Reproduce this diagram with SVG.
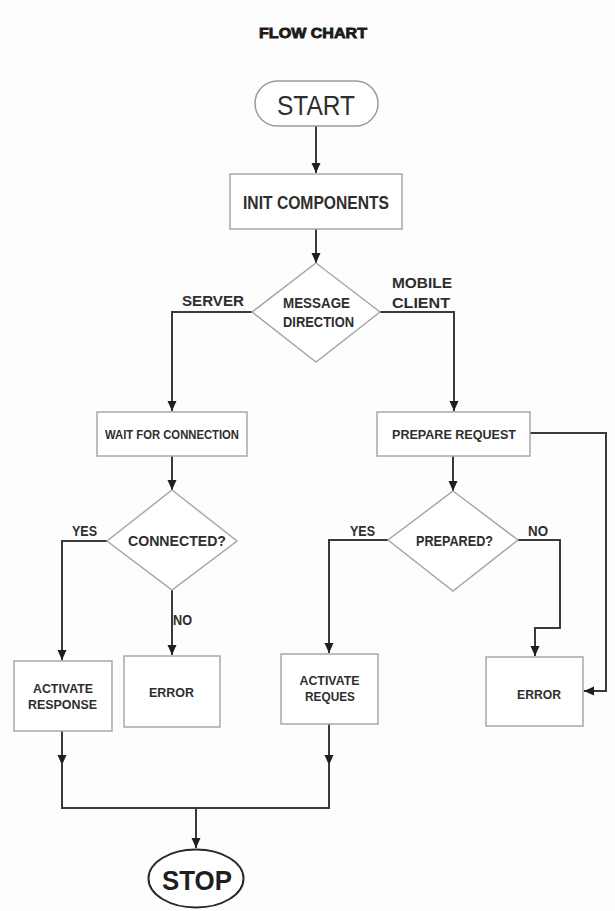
<svg xmlns="http://www.w3.org/2000/svg" width="615" height="911" viewBox="0 0 615 911">
<style>
text{font-family:"Liberation Sans",Arial,sans-serif;fill:#2e2e2e;text-anchor:middle}
.b{font-weight:bold}
.box{fill:#fff;stroke:#a8a8a8;stroke-width:1.5}
.con{fill:none;stroke:#3a3a3a;stroke-width:2}
.lbl{font-weight:bold;font-size:15px}
</style>
<defs>
<marker id="ah" markerUnits="userSpaceOnUse" markerWidth="10" markerHeight="10" viewBox="0 0 10 10" refX="10" refY="5" orient="auto">
<path d="M0,0.5 L10,5 L0,9.5 Z" fill="#1e1e1e"/>
</marker>
</defs>
<rect width="615" height="911" fill="#fdfdfd"/>
<text id="title" x="313" y="38" class="b" font-size="14" stroke="#1a1a1a" stroke-width="0.8" style="fill:#1a1a1a" textLength="108" lengthAdjust="spacingAndGlyphs">FLOW CHART</text>

<g id="connectors">
<path class="con" d="M316,126 V173" marker-end="url(#ah)"/>
<path class="con" d="M316,229 V263" marker-end="url(#ah)"/>
<path class="con" d="M252,312 H172 V411" marker-end="url(#ah)"/>
<path class="con" d="M380,312 H454 V411" marker-end="url(#ah)"/>
<path class="con" d="M172,456 V490" marker-end="url(#ah)"/>
<path class="con" d="M107,541 H62 V660" marker-end="url(#ah)"/>
<path class="con" d="M172,590 V655" marker-end="url(#ah)"/>
<path class="con" d="M453,456 V491" marker-end="url(#ah)"/>
<path class="con" d="M388,540 H329 V653" marker-end="url(#ah)"/>
<path class="con" d="M518,540 H560 V628 H535 V656" marker-end="url(#ah)"/>
<path class="con" d="M530,433 H606 V691 H584" marker-end="url(#ah)"/>
<path class="con" d="M62,731 V765" marker-end="url(#ah)"/>
<path class="con" d="M329,724 V765" marker-end="url(#ah)"/>
<path class="con" d="M62,763 V808 H329 V763"/>
<path class="con" d="M196,808 V848" marker-end="url(#ah)"/>
<text class="lbl" x="213" y="306" textLength="62" lengthAdjust="spacingAndGlyphs">SERVER</text>
<text class="lbl" x="422" y="288" textLength="60" lengthAdjust="spacingAndGlyphs">MOBILE</text>
<text class="lbl" x="421" y="308" textLength="58" lengthAdjust="spacingAndGlyphs">CLIENT</text>
<text class="lbl" x="84.5" y="536" font-size="13" textLength="25" lengthAdjust="spacingAndGlyphs">YES</text>
<text class="lbl" x="182.5" y="625" font-size="13" textLength="19" lengthAdjust="spacingAndGlyphs">NO</text>
<text class="lbl" x="362.5" y="536" font-size="13" textLength="25" lengthAdjust="spacingAndGlyphs">YES</text>
<text class="lbl" x="538" y="536" font-size="13" textLength="20" lengthAdjust="spacingAndGlyphs">NO</text>
</g>

<g id="start">
<rect x="255" y="81" width="123" height="45" rx="22.5" fill="#fff" stroke="#9a9a9a" stroke-width="1.5"/>
<text x="316" y="115" font-size="28" textLength="78" lengthAdjust="spacingAndGlyphs">START</text>
</g>
<g id="init">
<rect class="box" x="230" y="174" width="172" height="55"/>
<text class="b" x="316" y="209" font-size="19" textLength="146" lengthAdjust="spacingAndGlyphs">INIT COMPONENTS</text>
</g>
<g id="direction">
<polygon class="box" points="316,263 380,312 316,362 252,312"/>
<text class="b" x="316.5" y="308" font-size="14" textLength="67" lengthAdjust="spacingAndGlyphs">MESSAGE</text>
<text class="b" x="318.5" y="327" font-size="14" textLength="71" lengthAdjust="spacingAndGlyphs">DIRECTION</text>
</g>
<g id="wait">
<rect class="box" x="97" y="412" width="150" height="44"/>
<text class="b" x="172" y="439" font-size="12.5" textLength="134" lengthAdjust="spacingAndGlyphs">WAIT FOR CONNECTION</text>
</g>
<g id="connected">
<polygon class="box" points="172,490 237,541 172,590 107,541"/>
<text class="b" x="177" y="546" font-size="14" textLength="98" lengthAdjust="spacingAndGlyphs">CONNECTED?</text>
</g>
<g id="activate-response">
<rect class="box" x="14" y="661" width="98" height="70"/>
<text class="b" x="63" y="693" font-size="13" textLength="60" lengthAdjust="spacingAndGlyphs">ACTIVATE</text>
<text class="b" x="62.5" y="709" font-size="13" textLength="69" lengthAdjust="spacingAndGlyphs">RESPONSE</text>
</g>
<g id="error-left">
<rect class="box" x="124" y="656" width="96" height="71"/>
<text class="b" x="171.5" y="697" font-size="13" textLength="45" lengthAdjust="spacingAndGlyphs">ERROR</text>
</g>
<g id="prepare">
<rect class="box" x="377" y="412" width="153" height="44"/>
<text class="b" x="454" y="439" font-size="13" textLength="124" lengthAdjust="spacingAndGlyphs">PREPARE REQUEST</text>
</g>
<g id="prepared">
<polygon class="box" points="453,491 518,540 453,591 388,540"/>
<text class="b" x="454.5" y="546" font-size="14" textLength="77" lengthAdjust="spacingAndGlyphs">PREPARED?</text>
</g>
<g id="activate-request">
<rect class="box" x="281" y="654" width="97" height="70"/>
<text class="b" x="329.5" y="685" font-size="13" textLength="60" lengthAdjust="spacingAndGlyphs">ACTIVATE</text>
<text class="b" x="330" y="701" font-size="13" textLength="50" lengthAdjust="spacingAndGlyphs">REQUES</text>
</g>
<g id="error-right">
<rect class="box" x="486" y="657" width="97" height="69"/>
<text class="b" x="539" y="699" font-size="13" textLength="44" lengthAdjust="spacingAndGlyphs">ERROR</text>
</g>
<g id="stop">
<ellipse cx="196" cy="878.5" rx="47.5" ry="29" fill="#fff" stroke="#2a2a2a" stroke-width="2"/>
<text class="b" x="197" y="890" font-size="28" textLength="70" lengthAdjust="spacingAndGlyphs" style="fill:#1e1e1e">STOP</text>
</g>
</svg>
